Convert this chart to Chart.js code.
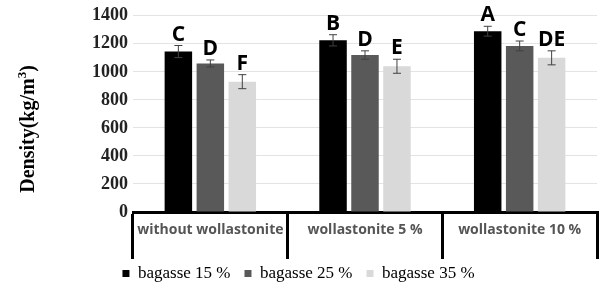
<!DOCTYPE html>
<html>
<head>
<meta charset="utf-8">
<script src="https://cdn.jsdelivr.net/npm/chart.js@4.4.0/dist/chart.umd.min.js"></script>
<style>
  body { margin: 0; background: #fff; }
</style>
</head>
<body>
<canvas id="densityChart" width="609" height="301"></canvas>
<script>
// values
var categories = ["without wollastonite", "wollastonite 5 %", "wollastonite 10 %"];
var seriesNames = ["bagasse 15 %", "bagasse 25 %", "bagasse 35 %"];
var bagasse15 = [1145, 1225, 1290];
var bagasse25 = [1060, 1120, 1185];
var bagasse35 = [930, 1040, 1100];
var err15 = [43, 40, 35];
var err25 = [25, 30, 35];
var err35 = [50, 50, 50];
var letters15 = ["C", "B", "A"];
var letters25 = ["D", "D", "C"];
var letters35 = ["F", "E", "DE"];
var yTicks = [0, 200, 400, 600, 800, 1000, 1200, 1400];

var colors = ["#000000", "#595959", "#d9d9d9"];
var errors = [err15, err25, err35];
var letters = [letters15, letters25, letters35];

// error bars + significance letters + y title with superscript
var errorBarPlugin = {
    id: 'errorBars',
    afterDatasetsDraw: function(chart) {
        var ctx = chart.ctx;
        var yScale = chart.scales.y;
        chart.data.datasets.forEach(function(ds, i) {
            var meta = chart.getDatasetMeta(i);
            meta.data.forEach(function(bar, j) {
                var v = ds.data[j];
                var e = errors[i][j];
                var yTop = yScale.getPixelForValue(v + e);
                var yBot = yScale.getPixelForValue(v - e);
                ctx.save();
                ctx.strokeStyle = "#404040";
                ctx.lineWidth = 1;
                ctx.beginPath();
                ctx.moveTo(bar.x, yTop); ctx.lineTo(bar.x, yBot);
                ctx.moveTo(bar.x - 4, yTop); ctx.lineTo(bar.x + 4, yTop);
                ctx.moveTo(bar.x - 4, yBot); ctx.lineTo(bar.x + 4, yBot);
                ctx.stroke();
                ctx.fillStyle = "#000";
                ctx.font = "bold 21px 'Open Sans'";
                ctx.textAlign = "center";
                ctx.textBaseline = "alphabetic";
                ctx.fillText(letters[i][j], bar.x, yTop - 5);
                ctx.restore();
            });
        });

        // y axis title
        var main = "Density(kg/m";
        ctx.save();
        ctx.translate(34, 129);
        ctx.rotate(-Math.PI / 2);
        ctx.fillStyle = "#000";
        ctx.font = "bold 20px 'Liberation Serif'";
        var w1 = ctx.measureText(main).width;
        var w2 = ctx.measureText(")").width;
        ctx.font = "bold 13px 'Liberation Serif'";
        var w3 = ctx.measureText("3").width;
        var x0 = -(w1 + w2 + w3) / 2;
        ctx.textBaseline = "alphabetic";
        ctx.textAlign = "left";
        ctx.font = "bold 20px 'Liberation Serif'";
        ctx.fillText(main, x0, 0);
        ctx.font = "bold 13px 'Liberation Serif'";
        ctx.fillText("3", x0 + w1, -8);
        ctx.font = "bold 20px 'Liberation Serif'";
        ctx.fillText(")", x0 + w1 + w3, 0);
        ctx.restore();
    }
};

var ctxChart = document.getElementById("densityChart");
var chart = new Chart(ctxChart, {
    type: 'bar',
    data: {
        labels: categories,
        datasets: [
            { label: seriesNames[0], data: bagasse15, backgroundColor: colors[0] },
            { label: seriesNames[1], data: bagasse25, backgroundColor: colors[1] },
            { label: seriesNames[2], data: bagasse35, backgroundColor: colors[2] }
        ]
    },
    options: {
        responsive: false,
        animation: false,
        datasets: {
            bar: { categoryPercentage: 0.62, barPercentage: 0.86 }
        },
        layout: { padding: { left: 0, right: 12, top: 5, bottom: 9 } },
        plugins: {
            tooltip: { enabled: false },
            legend: {
                position: 'bottom',
                labels: {
                    boxWidth: 7, boxHeight: 7, padding: 14,
                    color: "#000",
                    font: { family: "'Liberation Serif'", size: 17 }
                }
            }
        },
        scales: {
            y: {
                min: 0, max: 1400,
                afterBuildTicks: function(axis) {
                    axis.ticks = yTicks.map(function(v) { return { value: v }; });
                },
                afterFit: function(axis) { axis.width = 133; },
                border: { display: false },
                grid: { color: "#e3e3e3", lineWidth: 1, drawTicks: false },
                ticks: {
                    padding: 5,
                    color: "#222",
                    font: { family: "'Liberation Serif'", size: 18, weight: 'bold' },
                    callback: function(v) { return String(v); }
                }
            },
            x: {
                afterFit: function(axis) { axis.height = 39; },
                border: { display: true, color: "#000", width: 3 },
                grid: {
                    offset: true,
                    drawOnChartArea: false,
                    color: "#000",
                    lineWidth: 3,
                    tickLength: 47
                },
                ticks: {
                    padding: -37,
                    color: "#555",
                    font: { family: "'Open Sans'", size: 14, weight: 'bold' }
                }
            }
        }
    },
    plugins: [errorBarPlugin]
});
</script>
</body>
</html>
